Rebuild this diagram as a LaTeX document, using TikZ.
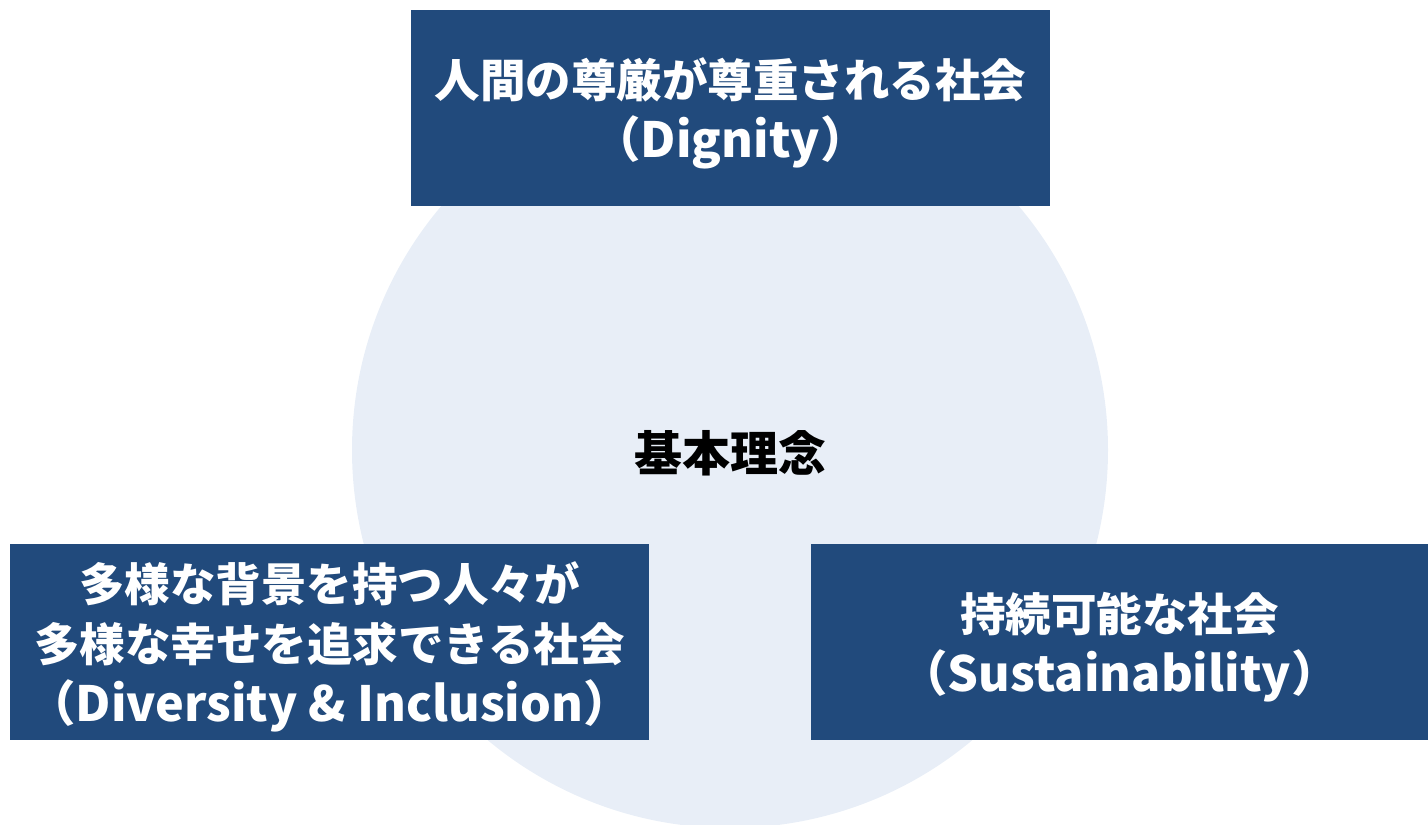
\documentclass[tikz,border=0pt]{standalone}
\usepackage{fontspec}
\setmainfont{Noto Sans CJK JP}
\usetikzlibrary{positioning}

\definecolor{boxblue}{HTML}{214A7C}
\definecolor{ringfill}{HTML}{E8EEF7}

% latin line of a box, set a little larger
\newcommand{\latinline}[1]{{\fontsize{48.5}{60}\selectfont #1}}

\tikzset{
  ideabox/.style={fill=boxblue,text=white,inner sep=0pt,minimum height=196pt,align=center,
    text depth=0pt,font=\fontsize{45.5}{60}\selectfont\bfseries},
  core/.style={text=black,font=\fontsize{48}{56}\selectfont\bfseries}
}

\begin{document}
\begin{tikzpicture}[x=1pt,y=-1pt]
		\useasboundingbox (0,0) rectangle (1428,825);
		\fill[ringfill] (730,450) circle [radius=378pt];
		\node[core] (rinen) at (730,453) {基本理念};
		\node[ideabox,minimum width=639pt] (dignity) at (730.5,108) {人間の尊厳が尊重される社会\\\latinline{（Dignity）}};
		\node[ideabox,minimum width=639pt] (diversity) at (329.5,642) {多様な背景を持つ人々が\\多様な幸せを追求できる社会\\\latinline{（Diversity \& Inclusion）}};
		\node[ideabox,minimum width=617pt] (sustain) at (1119.5,642) {持続可能な社会\\\latinline{（Sustainability）}};
	\end{tikzpicture}
\end{document}
